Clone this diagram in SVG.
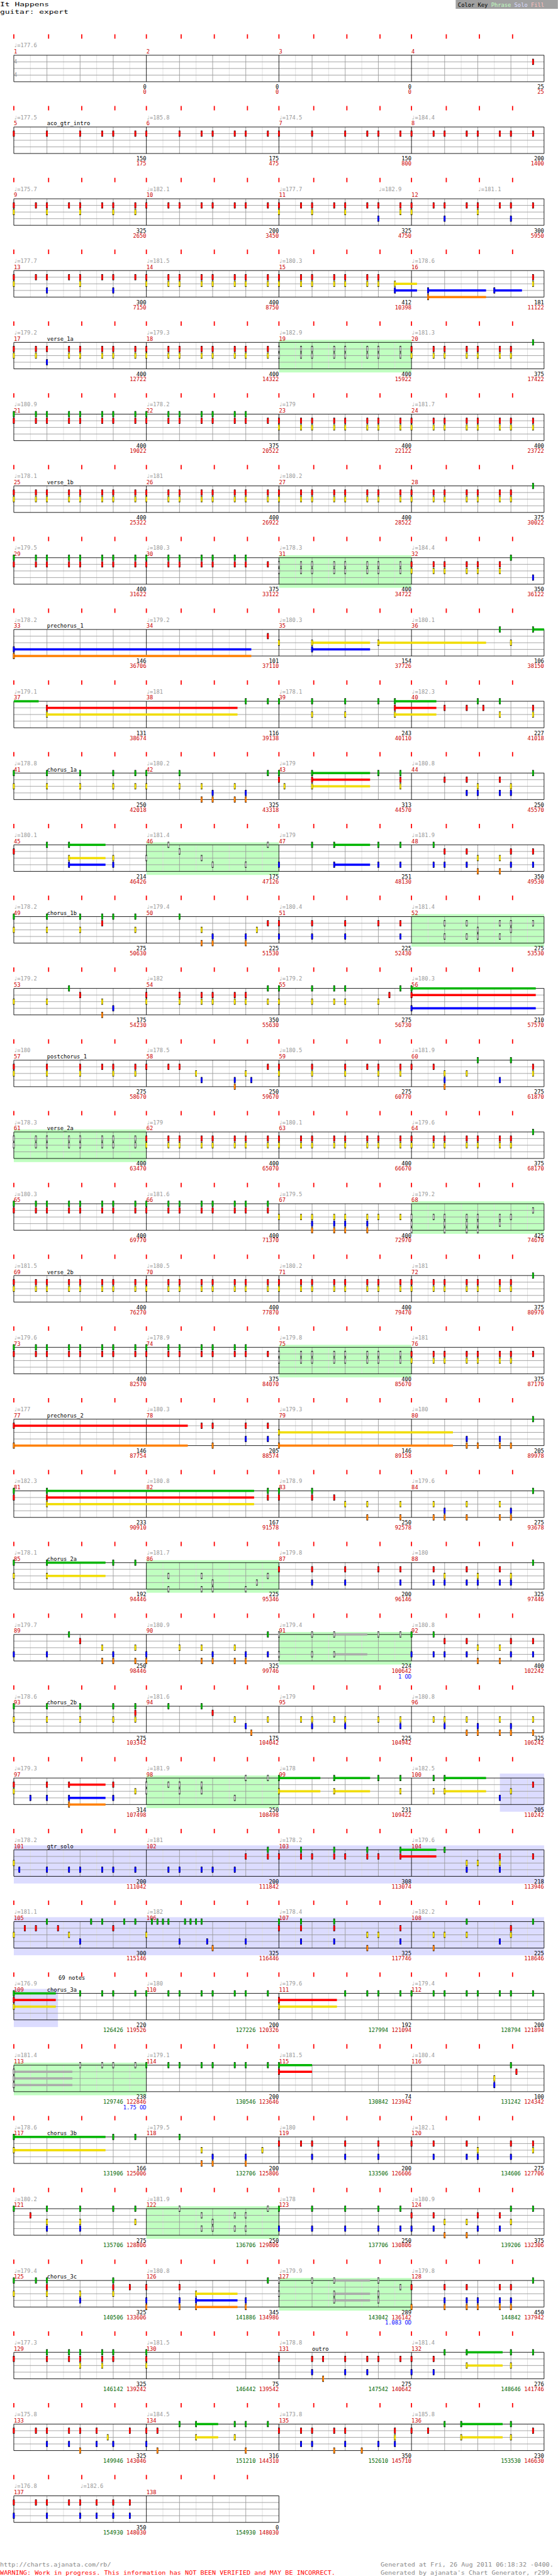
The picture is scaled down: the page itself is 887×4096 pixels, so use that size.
<svg xmlns="http://www.w3.org/2000/svg" width="887" height="4096" viewBox="0 0 887 4096">
<style>
text{font-family:"DejaVu Sans Mono","Liberation Mono",monospace;font-size:10px}
.t{fill:#999}.mn{fill:#c00}.sn{fill:#000}.sc{fill:#000;text-anchor:end}.cu{fill:#c00;text-anchor:end}.gn{fill:#060}.od{fill:#00f;text-anchor:end}
.ph{fill:#c0ffc0}.so{fill:#dcdcff}
.sG{fill:#00b400}.sR{fill:#f00}.sY{fill:#f0dc00}.sB{fill:#00f}.sO{fill:#ff8000}.sX{fill:#aaa}
</style>
<defs>
<g id="G"><rect x="-1.5" y="32.5" width="3" height="11"/><rect x="-1.5" y="33.5" width="3" height="9" fill="#00b400"/></g>
<g id="R"><rect x="-1.5" y="44.5" width="3" height="11"/><rect x="-1.5" y="45.5" width="3" height="9" fill="#f00"/></g>
<g id="Y"><rect x="-1.5" y="56.5" width="3" height="11"/><rect x="-1.5" y="57.5" width="3" height="9" fill="#f0dc00"/></g>
<g id="B"><rect x="-1.5" y="68.5" width="3" height="11"/><rect x="-1.5" y="69.5" width="3" height="9" fill="#00f"/></g>
<g id="O"><rect x="-1.5" y="80.5" width="3" height="11"/><rect x="-1.5" y="81.5" width="3" height="9" fill="#ff8000"/></g>
<g id="g"><rect x="-1.5" y="32.5" width="3" height="11"/><rect x="-1.5" y="33.5" width="3" height="9" fill="#999"/><rect x="-0.5" y="34.5" width="1" height="7" fill="#ddd"/></g>
<g id="r"><rect x="-1.5" y="44.5" width="3" height="11"/><rect x="-1.5" y="45.5" width="3" height="9" fill="#999"/><rect x="-0.5" y="46.5" width="1" height="7" fill="#ddd"/></g>
<g id="y"><rect x="-1.5" y="56.5" width="3" height="11"/><rect x="-1.5" y="57.5" width="3" height="9" fill="#999"/><rect x="-0.5" y="58.5" width="1" height="7" fill="#ddd"/></g>
<g id="b"><rect x="-1.5" y="68.5" width="3" height="11"/><rect x="-1.5" y="69.5" width="3" height="9" fill="#999"/><rect x="-0.5" y="70.5" width="1" height="7" fill="#ddd"/></g>
<g id="o"><rect x="-1.5" y="80.5" width="3" height="11"/><rect x="-1.5" y="81.5" width="3" height="9" fill="#999"/><rect x="-0.5" y="82.5" width="1" height="7" fill="#ddd"/></g>
<g id="mR"><use href="#R" x="25"/><use href="#R" x="65"/><use href="#R" x="85"/><use href="#R" x="125"/><use href="#R" x="145"/><use href="#R" x="185"/><use href="#R" x="205"/><use href="#R" x="245"/></g>
<g id="mY"><use href="#Y" x="25"/><use href="#Y" x="65"/><use href="#Y" x="85"/><use href="#Y" x="125"/><use href="#Y" x="145"/><use href="#Y" x="185"/><use href="#Y" x="205"/><use href="#Y" x="245"/></g>
<g id="mG"><use href="#G" x="25"/><use href="#G" x="65"/><use href="#G" x="85"/><use href="#G" x="125"/><use href="#G" x="145"/><use href="#G" x="185"/><use href="#G" x="205"/><use href="#G" x="245"/></g>
<g id="mr"><use href="#r" x="25"/><use href="#r" x="65"/><use href="#r" x="85"/><use href="#r" x="125"/><use href="#r" x="145"/><use href="#r" x="185"/><use href="#r" x="205"/><use href="#r" x="245"/></g>
<g id="my"><use href="#y" x="25"/><use href="#y" x="65"/><use href="#y" x="85"/><use href="#y" x="125"/><use href="#y" x="145"/><use href="#y" x="185"/><use href="#y" x="205"/><use href="#y" x="245"/></g>
<g id="p7R"><use href="#R" x="25"/><use href="#R" x="65"/><use href="#R" x="85"/><use href="#R" x="125"/><use href="#R" x="145"/><use href="#R" x="185"/><use href="#R" x="205"/></g>
<g id="p7Y"><use href="#Y" x="25"/><use href="#Y" x="65"/><use href="#Y" x="85"/><use href="#Y" x="125"/><use href="#Y" x="145"/><use href="#Y" x="185"/><use href="#Y" x="205"/></g>
<g id="p7G"><use href="#G" x="25"/><use href="#G" x="65"/><use href="#G" x="85"/><use href="#G" x="125"/><use href="#G" x="145"/><use href="#G" x="185"/><use href="#G" x="205"/></g>
<path id="tk16" d="M25 0v8M88 0v8M148 0v8M208 0v8M265 0v8M328 0v8M388 0v8M448 0v8M505 0v8M568 0v8M628 0v8M688 0v8M745 0v8M808 0v8M868 0v8M928 0v8" stroke="#f00" stroke-width="2"/>
<path id="tk8" d="M25 0v8M88 0v8M148 0v8M208 0v8M265 0v8M328 0v8M388 0v8M448 0v8" stroke="#f00" stroke-width="2"/>
<g id="grid4" fill="none">
<path stroke="#ddd" d="M55 38v48M115 38v48M175 38v48M235 38v48M295 38v48M355 38v48M415 38v48M475 38v48M535 38v48M595 38v48M655 38v48M715 38v48M775 38v48M835 38v48M895 38v48M955 38v48"/>
<path stroke="#999" d="M85 38v48M145 38v48M205 38v48M325 38v48M385 38v48M445 38v48M565 38v48M625 38v48M685 38v48M805 38v48M865 38v48M925 38v48M25 50h960M25 62h960M25 74h960"/>
<path stroke="#000" d="M265 38v48M505 38v48M745 38v48M25 38h960v48h-960z"/>
</g>
<g id="grid2" fill="none">
<path stroke="#ddd" d="M55 38v48M115 38v48M175 38v48M235 38v48M295 38v48M355 38v48M415 38v48M475 38v48"/>
<path stroke="#999" d="M85 38v48M145 38v48M205 38v48M325 38v48M385 38v48M445 38v48M25 50h480M25 62h480M25 74h480"/>
<path stroke="#000" d="M265 38v48M25 38h480v48h-480z"/>
</g>
</defs>
<rect width="887" height="4096" fill="#fff"/>
<g transform="scale(0.878)">
<g id="header">
<text x="0" y="11" font-size="12" textLength="89" lengthAdjust="spacingAndGlyphs">It Happens</text>
<text x="0" y="25" font-size="12" textLength="124" lengthAdjust="spacingAndGlyphs">guitar: expert</text>
<rect x="825" y="0" width="185" height="16" fill="#a0a0a0"/>
<text x="829" y="12" font-size="11.3"><tspan fill="#000">Color Key </tspan><tspan fill="#c0ffc0">Phrase </tspan><tspan fill="#dcdcff">Solo </tspan><tspan fill="#ffc0c0">Fill</tspan></text>
</g>

<g id="row1" transform="translate(0,62)">
<use href="#grid4"/><use href="#tk16"/>
<text class="t" x="25" y="24">♩=177.6</text>
<text class="mn" x="25" y="35">1</text><text class="mn" x="265" y="35">2</text><text class="mn" x="505" y="35">3</text><text class="mn" x="745" y="35">4</text>
<text x="25" y="53" font-size="13" fill="#999">4</text><text x="25" y="77" font-size="13" fill="#999">4</text>
<text class="sc" x="265" y="99">0</text><text class="cu" x="265" y="108">0</text>
<text class="sc" x="505" y="99">0</text><text class="cu" x="505" y="108">0</text>
<text class="sc" x="745" y="99">0</text><text class="cu" x="745" y="108">0</text>
<text class="sc" x="985" y="99">25</text><text class="cu" x="985" y="108">25</text>
<use href="#R" x="965"/>
</g>

<g id="row2" transform="translate(0,192)">
<use href="#grid4"/><use href="#tk16"/>
<text class="t" x="25" y="24">♩=177.5</text><text class="t" x="265" y="24">♩=185.8</text><text class="t" x="505" y="24">♩=174.5</text><text class="t" x="745" y="24">♩=184.4</text>
<text class="mn" x="25" y="35">5</text><text class="mn" x="265" y="35">6</text><text class="mn" x="505" y="35">7</text><text class="mn" x="745" y="35">8</text>
<text class="sn" x="85" y="35">aco_gtr_intro</text>
<text class="sc" x="265" y="99">150</text><text class="cu" x="265" y="108">175</text>
<text class="sc" x="505" y="99">175</text><text class="cu" x="505" y="108">475</text>
<text class="sc" x="745" y="99">150</text><text class="cu" x="745" y="108">800</text>
<text class="sc" x="985" y="99">200</text><text class="cu" x="985" y="108">1400</text>
<use href="#R" x="25"/><use href="#R" x="85"/><use href="#R" x="145"/><use href="#R" x="185"/><use href="#R" x="205"/><use href="#R" x="245"/><use href="#R" x="265"/><use href="#R" x="325"/><use href="#R" x="365"/><use href="#R" x="385"/><use href="#R" x="425"/><use href="#R" x="445"/><use href="#R" x="485"/><use href="#R" x="505"/><use href="#R" x="565"/><use href="#R" x="625"/><use href="#R" x="665"/><use href="#R" x="685"/><use href="#R" x="725"/><use href="#mR" x="720"/>
</g>

<g id="row3" transform="translate(0,322)">
<use href="#grid4"/><use href="#tk16"/>
<text class="t" x="25" y="24">♩=175.7</text><text class="t" x="265" y="24">♩=182.1</text><text class="t" x="505" y="24">♩=177.7</text><text class="t" x="685" y="24">♩=182.9</text><text class="t" x="865" y="24">♩=181.1</text>
<text class="mn" x="25" y="35">9</text><text class="mn" x="265" y="35">10</text><text class="mn" x="505" y="35">11</text><text class="mn" x="745" y="35">12</text>
<text class="sc" x="265" y="99">325</text><text class="cu" x="265" y="108">2650</text>
<text class="sc" x="505" y="99">200</text><text class="cu" x="505" y="108">3450</text>
<text class="sc" x="745" y="99">325</text><text class="cu" x="745" y="108">4750</text>
<text class="sc" x="985" y="99">300</text><text class="cu" x="985" y="108">5950</text>
<use href="#mR"/><use href="#mR" x="240"/><use href="#mR" x="480"/><use href="#mR" x="720"/>
<use href="#Y" x="25"/><use href="#Y" x="85"/><use href="#Y" x="145"/><use href="#Y" x="205"/><use href="#Y" x="245"/><use href="#Y" x="505"/><use href="#Y" x="565"/><use href="#Y" x="625"/><use href="#Y" x="725"/><use href="#Y" x="745"/><use href="#Y" x="865"/>
<use href="#B" x="685"/><use href="#B" x="805"/><use href="#B" x="925"/>
</g>

<g id="row4" transform="translate(0,452)">
<use href="#grid4"/><use href="#tk16"/>
<text class="t" x="25" y="24">♩=177.7</text><text class="t" x="265" y="24">♩=181.5</text><text class="t" x="505" y="24">♩=180.3</text><text class="t" x="745" y="24">♩=178.6</text>
<text class="mn" x="25" y="35">13</text><text class="mn" x="265" y="35">14</text><text class="mn" x="505" y="35">15</text><text class="mn" x="745" y="35">16</text>
<text class="sc" x="265" y="99">300</text><text class="cu" x="265" y="108">7150</text>
<text class="sc" x="505" y="99">400</text><text class="cu" x="505" y="108">8750</text>
<text class="sc" x="745" y="99">412</text><text class="cu" x="745" y="108">10398</text>
<text class="sc" x="985" y="99">181</text><text class="cu" x="985" y="108">11122</text>
<rect class="sY" x="715" y="60" width="40" height="4"/><rect class="sB" x="715" y="72" width="40" height="4"/><rect class="sB" x="775" y="72" width="105" height="4"/><rect class="sB" x="895" y="72" width="50" height="4"/><rect class="sO" x="775" y="84" width="105" height="4"/>
<use href="#mR"/><use href="#mR" x="240"/><use href="#p7R" x="480"/><use href="#R" x="965"/>
<use href="#Y" x="25"/><use href="#Y" x="145"/><use href="#mY" x="240"/><use href="#p7Y" x="480"/><use href="#Y" x="715"/><use href="#Y" x="965"/>
<use href="#B" x="85"/><use href="#B" x="205"/><use href="#B" x="715"/><use href="#B" x="775"/><use href="#B" x="895"/><use href="#O" x="775"/>
</g>

<g id="row5" transform="translate(0,582)">
<rect class="ph" x="505" y="33.5" width="240" height="59"/>
<use href="#grid4"/><use href="#tk16"/>
<text class="t" x="25" y="24">♩=179.2</text><text class="t" x="265" y="24">♩=179.3</text><text class="t" x="505" y="24">♩=182.9</text><text class="t" x="745" y="24">♩=181.3</text>
<text class="mn" x="25" y="35">17</text><text class="mn" x="265" y="35">18</text><text class="mn" x="505" y="35">19</text><text class="mn" x="745" y="35">20</text>
<text class="sn" x="85" y="35">verse_1a</text>
<text class="sc" x="265" y="99">400</text><text class="cu" x="265" y="108">12722</text>
<text class="sc" x="505" y="99">400</text><text class="cu" x="505" y="108">14322</text>
<text class="sc" x="745" y="99">400</text><text class="cu" x="745" y="108">15922</text>
<text class="sc" x="985" y="99">375</text><text class="cu" x="985" y="108">17422</text>
<use href="#mR"/><use href="#Y" x="25"/><use href="#Y" x="65"/><use href="#Y" x="125"/><use href="#Y" x="145"/><use href="#Y" x="185"/><use href="#Y" x="205"/><use href="#Y" x="245"/><use href="#B" x="85"/>
<use href="#mR" x="240"/><use href="#mY" x="240"/><use href="#mr" x="480"/><use href="#my" x="480"/>
<use href="#p7R" x="720"/><use href="#p7Y" x="720"/><use href="#G" x="965"/>
</g>

<g id="row6" transform="translate(0,712)">
<use href="#grid4"/><use href="#tk16"/>
<text class="t" x="25" y="24">♩=180.9</text><text class="t" x="265" y="24">♩=178.2</text><text class="t" x="505" y="24">♩=179</text><text class="t" x="745" y="24">♩=181.7</text>
<text class="mn" x="25" y="35">21</text><text class="mn" x="265" y="35">22</text><text class="mn" x="505" y="35">23</text><text class="mn" x="745" y="35">24</text>
<text class="sc" x="265" y="99">400</text><text class="cu" x="265" y="108">19022</text>
<text class="sc" x="505" y="99">375</text><text class="cu" x="505" y="108">20522</text>
<text class="sc" x="745" y="99">400</text><text class="cu" x="745" y="108">22122</text>
<text class="sc" x="985" y="99">400</text><text class="cu" x="985" y="108">23722</text>
<use href="#mG"/><use href="#p7G" x="240"/><use href="#mR"/><use href="#mR" x="240"/>
<use href="#mR" x="480"/><use href="#mR" x="720"/><use href="#mY" x="480"/><use href="#mY" x="720"/>
</g>

<g id="row7" transform="translate(0,842)">
<use href="#grid4"/><use href="#tk16"/>
<text class="t" x="25" y="24">♩=178.1</text><text class="t" x="265" y="24">♩=181</text><text class="t" x="505" y="24">♩=180.2</text>
<text class="mn" x="25" y="35">25</text><text class="mn" x="265" y="35">26</text><text class="mn" x="505" y="35">27</text><text class="mn" x="745" y="35">28</text>
<text class="sn" x="85" y="35">verse_1b</text>
<text class="sc" x="265" y="99">400</text><text class="cu" x="265" y="108">25322</text>
<text class="sc" x="505" y="99">400</text><text class="cu" x="505" y="108">26922</text>
<text class="sc" x="745" y="99">400</text><text class="cu" x="745" y="108">28522</text>
<text class="sc" x="985" y="99">375</text><text class="cu" x="985" y="108">30022</text>
<use href="#mR"/><use href="#mR" x="240"/><use href="#mR" x="480"/><use href="#mY"/><use href="#mY" x="240"/><use href="#mY" x="480"/>
<use href="#p7R" x="720"/><use href="#p7Y" x="720"/><use href="#G" x="965"/>
</g>

<g id="row8" transform="translate(0,972)">
<rect class="ph" x="505" y="33.5" width="240" height="59"/>
<use href="#grid4"/><use href="#tk16"/>
<text class="t" x="25" y="24">♩=179.5</text><text class="t" x="265" y="24">♩=180.3</text><text class="t" x="505" y="24">♩=178.3</text><text class="t" x="745" y="24">♩=184.4</text>
<text class="mn" x="25" y="35">29</text><text class="mn" x="265" y="35">30</text><text class="mn" x="505" y="35">31</text><text class="mn" x="745" y="35">32</text>
<text class="sc" x="265" y="99">400</text><text class="cu" x="265" y="108">31622</text>
<text class="sc" x="505" y="99">375</text><text class="cu" x="505" y="108">33122</text>
<text class="sc" x="745" y="99">400</text><text class="cu" x="745" y="108">34722</text>
<text class="sc" x="985" y="99">350</text><text class="cu" x="985" y="108">36122</text>
<use href="#mG"/><use href="#p7G" x="240"/><use href="#mR"/><use href="#mR" x="240"/>
<use href="#mr" x="480"/><use href="#my" x="480"/>
<use href="#R" x="745"/><use href="#R" x="785"/><use href="#R" x="805"/><use href="#R" x="845"/><use href="#R" x="865"/><use href="#R" x="905"/>
<use href="#Y" x="745"/><use href="#Y" x="785"/><use href="#Y" x="805"/><use href="#Y" x="845"/><use href="#Y" x="865"/><use href="#Y" x="905"/>
<use href="#G" x="925"/><use href="#B" x="965"/>
</g>

<g id="row9" transform="translate(0,1102)">
<use href="#grid4"/><use href="#tk16"/>
<text class="t" x="25" y="24">♩=178.2</text><text class="t" x="265" y="24">♩=179.2</text><text class="t" x="505" y="24">♩=180.3</text><text class="t" x="745" y="24">♩=180.1</text>
<text class="mn" x="25" y="35">33</text><text class="mn" x="265" y="35">34</text><text class="mn" x="505" y="35">35</text><text class="mn" x="745" y="35">36</text>
<text class="sn" x="85" y="35">prechorus_1</text>
<text class="sc" x="265" y="99">146</text><text class="cu" x="265" y="108">36706</text>
<text class="sc" x="505" y="99">101</text><text class="cu" x="505" y="108">37110</text>
<text class="sc" x="745" y="99">154</text><text class="cu" x="745" y="108">37726</text>
<text class="sc" x="985" y="99">106</text><text class="cu" x="985" y="108">38150</text>
<rect class="sB" x="25" y="72" width="430" height="4"/><rect class="sO" x="25" y="84" width="430" height="4"/>
<rect class="sY" x="565" y="60" width="105" height="4"/><rect class="sB" x="565" y="72" width="105" height="4"/>
<rect class="sY" x="685" y="60" width="195" height="4"/><rect class="sG" x="965" y="36" width="20" height="4"/>
<use href="#B" x="25"/><use href="#O" x="25"/><use href="#R" x="485"/><use href="#Y" x="505"/><use href="#Y" x="565"/><use href="#B" x="565"/><use href="#Y" x="685"/><use href="#G" x="905"/><use href="#Y" x="925"/><use href="#G" x="965"/>
</g>

<g id="row10" transform="translate(0,1232)">
<use href="#grid4"/><use href="#tk16"/>
<text class="t" x="25" y="24">♩=179.1</text><text class="t" x="265" y="24">♩=181</text><text class="t" x="505" y="24">♩=178.1</text><text class="t" x="745" y="24">♩=182.3</text>
<text class="mn" x="25" y="35">37</text><text class="mn" x="265" y="35">38</text><text class="mn" x="505" y="35">39</text><text class="mn" x="745" y="35">40</text>
<text class="sc" x="265" y="99">131</text><text class="cu" x="265" y="108">38674</text>
<text class="sc" x="505" y="99">116</text><text class="cu" x="505" y="108">39138</text>
<text class="sc" x="745" y="99">243</text><text class="cu" x="745" y="108">40110</text>
<text class="sc" x="985" y="99">227</text><text class="cu" x="985" y="108">41018</text>
<rect class="sG" x="25" y="36" width="45" height="4"/>
<rect class="sR" x="85" y="48" width="345" height="4"/><rect class="sY" x="85" y="60" width="345" height="4"/>
<rect class="sG" x="715" y="36" width="75" height="4"/><rect class="sR" x="715" y="48" width="75" height="4"/><rect class="sY" x="715" y="60" width="75" height="4"/>
<use href="#R" x="85"/><use href="#Y" x="85"/>
<use href="#G" x="445"/><use href="#G" x="485"/><use href="#G" x="505"/><use href="#G" x="565"/><use href="#G" x="625"/><use href="#G" x="685"/><use href="#Y" x="565"/><use href="#Y" x="625"/>
<use href="#G" x="715"/><use href="#R" x="715"/><use href="#Y" x="715"/>
<use href="#R" x="805"/><use href="#R" x="845"/><use href="#R" x="875"/><use href="#G" x="865"/><use href="#G" x="905"/><use href="#Y" x="905"/><use href="#R" x="965"/><use href="#Y" x="965"/>
</g>

<g id="row11" transform="translate(0,1362)">
<use href="#grid4"/><use href="#tk16"/>
<text class="t" x="25" y="24">♩=178.8</text><text class="t" x="265" y="24">♩=180.2</text><text class="t" x="505" y="24">♩=179</text><text class="t" x="745" y="24">♩=180.8</text>
<text class="mn" x="25" y="35">41</text><text class="mn" x="265" y="35">42</text><text class="mn" x="505" y="35">43</text><text class="mn" x="745" y="35">44</text>
<text class="sn" x="85" y="35">chorus_1a</text>
<text class="sc" x="265" y="99">250</text><text class="cu" x="265" y="108">42018</text>
<text class="sc" x="505" y="99">325</text><text class="cu" x="505" y="108">43318</text>
<text class="sc" x="745" y="99">313</text><text class="cu" x="745" y="108">44570</text>
<text class="sc" x="985" y="99">250</text><text class="cu" x="985" y="108">45570</text>
<rect class="sG" x="565" y="36" width="105" height="4"/><rect class="sR" x="565" y="48" width="105" height="4"/><rect class="sY" x="565" y="60" width="105" height="4"/>
<use href="#G" x="25"/><use href="#G" x="85"/><use href="#G" x="145"/><use href="#G" x="205"/><use href="#G" x="245"/><use href="#G" x="265"/><use href="#G" x="325"/><use href="#G" x="485"/><use href="#G" x="505"/>
<use href="#Y" x="25"/><use href="#Y" x="85"/><use href="#Y" x="145"/><use href="#Y" x="205"/><use href="#Y" x="245"/><use href="#Y" x="265"/><use href="#Y" x="325"/><use href="#Y" x="365"/><use href="#Y" x="425"/>
<use href="#B" x="385"/><use href="#B" x="445"/><use href="#O" x="365"/><use href="#O" x="385"/><use href="#O" x="425"/><use href="#O" x="445"/>
<use href="#R" x="505"/><use href="#Y" x="515"/><use href="#G" x="565"/><use href="#R" x="565"/><use href="#Y" x="565"/>
<use href="#G" x="685"/><use href="#G" x="725"/><use href="#R" x="725"/><use href="#Y" x="725"/>
<use href="#R" x="805"/><use href="#R" x="845"/><use href="#R" x="905"/><use href="#B" x="845"/><use href="#B" x="865"/><use href="#B" x="905"/><use href="#B" x="925"/><use href="#Y" x="865"/><use href="#Y" x="925"/><use href="#G" x="965"/>
</g>

<g id="row12" transform="translate(0,1492)">
<rect class="ph" x="265" y="33.5" width="240" height="59"/>
<use href="#grid4"/><use href="#tk16"/>
<text class="t" x="25" y="24">♩=180.1</text><text class="t" x="265" y="24">♩=181.4</text><text class="t" x="505" y="24">♩=179</text><text class="t" x="745" y="24">♩=181.9</text>
<text class="mn" x="25" y="35">45</text><text class="mn" x="265" y="35">46</text><text class="mn" x="505" y="35">47</text><text class="mn" x="745" y="35">48</text>
<text class="sc" x="265" y="99">214</text><text class="cu" x="265" y="108">46426</text>
<text class="sc" x="505" y="99">175</text><text class="cu" x="505" y="108">47126</text>
<text class="sc" x="745" y="99">251</text><text class="cu" x="745" y="108">48130</text>
<text class="sc" x="985" y="99">350</text><text class="cu" x="985" y="108">49530</text>
<rect class="sG" x="125" y="36" width="66" height="4"/><rect class="sY" x="125" y="60" width="66" height="4"/><rect class="sB" x="125" y="72" width="66" height="4"/>
<rect class="sG" x="605" y="36" width="65" height="4"/><rect class="sB" x="605" y="72" width="65" height="4"/>
<use href="#R" x="25"/><use href="#G" x="85"/><use href="#G" x="125"/><use href="#Y" x="125"/><use href="#B" x="125"/><use href="#Y" x="205"/><use href="#B" x="205"/>
<use href="#g" x="305"/><use href="#g" x="485"/><use href="#r" x="325"/><use href="#y" x="265"/><use href="#y" x="365"/><use href="#b" x="385"/><use href="#b" x="445"/>
<use href="#B" x="505"/><use href="#G" x="565"/><use href="#G" x="605"/><use href="#B" x="605"/><use href="#G" x="685"/><use href="#G" x="725"/><use href="#B" x="685"/><use href="#B" x="725"/><use href="#G" x="785"/>
<use href="#R" x="805"/><use href="#R" x="845"/><use href="#R" x="925"/><use href="#R" x="965"/>
<use href="#B" x="785"/><use href="#B" x="805"/><use href="#B" x="845"/><use href="#B" x="925"/><use href="#B" x="965"/>
<use href="#Y" x="865"/><use href="#Y" x="905"/><use href="#O" x="865"/><use href="#O" x="905"/>
</g>

<g id="row13" transform="translate(0,1622)">
<rect class="ph" x="745" y="33.5" width="240" height="59"/>
<use href="#grid4"/><use href="#tk16"/>
<text class="t" x="25" y="24">♩=178.2</text><text class="t" x="265" y="24">♩=179.4</text><text class="t" x="505" y="24">♩=180.4</text><text class="t" x="745" y="24">♩=181.4</text>
<text class="mn" x="25" y="35">49</text><text class="mn" x="265" y="35">50</text><text class="mn" x="505" y="35">51</text><text class="mn" x="745" y="35">52</text>
<text class="sn" x="85" y="35">chorus_1b</text>
<text class="sc" x="265" y="99">275</text><text class="cu" x="265" y="108">50630</text>
<text class="sc" x="505" y="99">225</text><text class="cu" x="505" y="108">51530</text>
<text class="sc" x="745" y="99">225</text><text class="cu" x="745" y="108">52430</text>
<text class="sc" x="985" y="99">275</text><text class="cu" x="985" y="108">53530</text>
<use href="#G" x="25"/><use href="#G" x="85"/><use href="#G" x="145"/><use href="#G" x="185"/><use href="#G" x="205"/><use href="#G" x="245"/><use href="#G" x="325"/><use href="#R" x="185"/>
<use href="#Y" x="25"/><use href="#Y" x="85"/><use href="#Y" x="145"/><use href="#Y" x="245"/><use href="#Y" x="365"/><use href="#Y" x="465"/>
<use href="#B" x="385"/><use href="#B" x="445"/><use href="#O" x="365"/><use href="#O" x="385"/><use href="#O" x="445"/>
<use href="#R" x="485"/><use href="#R" x="505"/><use href="#R" x="565"/><use href="#R" x="625"/><use href="#R" x="685"/><use href="#R" x="725"/>
<use href="#B" x="505"/><use href="#B" x="565"/><use href="#B" x="625"/><use href="#B" x="725"/>
<use href="#r" x="805"/><use href="#r" x="845"/><use href="#r" x="905"/><use href="#r" x="925"/><use href="#r" x="965"/><use href="#y" x="865"/><use href="#y" x="925"/>
<use href="#b" x="805"/><use href="#b" x="845"/><use href="#b" x="865"/><use href="#b" x="905"/>
</g>

<g id="row14" transform="translate(0,1752)">
<use href="#grid4"/><use href="#tk16"/>
<text class="t" x="25" y="24">♩=179.2</text><text class="t" x="265" y="24">♩=182</text><text class="t" x="505" y="24">♩=179.2</text><text class="t" x="745" y="24">♩=180.3</text>
<text class="mn" x="25" y="35">53</text><text class="mn" x="265" y="35">54</text><text class="mn" x="505" y="35">55</text><text class="mn" x="745" y="35">56</text>
<text class="sc" x="265" y="99">175</text><text class="cu" x="265" y="108">54230</text>
<text class="sc" x="505" y="99">350</text><text class="cu" x="505" y="108">55630</text>
<text class="sc" x="745" y="99">275</text><text class="cu" x="745" y="108">56730</text>
<text class="sc" x="985" y="99">210</text><text class="cu" x="985" y="108">57570</text>
<rect class="sG" x="745" y="36" width="225" height="4"/><rect class="sR" x="745" y="48" width="225" height="4"/><rect class="sB" x="745" y="72" width="225" height="4"/>
<use href="#Y" x="25"/><use href="#Y" x="85"/><use href="#Y" x="185"/><use href="#G" x="125"/><use href="#R" x="145"/><use href="#B" x="205"/><use href="#O" x="185"/>
<use href="#R" x="265"/><use href="#R" x="325"/><use href="#R" x="365"/><use href="#R" x="385"/><use href="#R" x="425"/><use href="#R" x="445"/>
<use href="#Y" x="265"/><use href="#Y" x="325"/><use href="#Y" x="365"/><use href="#Y" x="385"/><use href="#Y" x="425"/><use href="#Y" x="445"/><use href="#Y" x="485"/><use href="#Y" x="505"/>
<use href="#G" x="485"/><use href="#G" x="505"/><use href="#G" x="565"/><use href="#G" x="605"/><use href="#G" x="625"/>
<use href="#Y" x="565"/><use href="#Y" x="605"/><use href="#Y" x="625"/><use href="#Y" x="685"/><use href="#G" x="725"/><use href="#R" x="705"/>
<use href="#G" x="745"/><use href="#R" x="745"/><use href="#B" x="745"/>
</g>

<g id="row15" transform="translate(0,1882)">
<use href="#grid4"/><use href="#tk16"/>
<text class="t" x="25" y="24">♩=180</text><text class="t" x="265" y="24">♩=178.5</text><text class="t" x="505" y="24">♩=180.5</text><text class="t" x="745" y="24">♩=181.9</text>
<text class="mn" x="25" y="35">57</text><text class="mn" x="265" y="35">58</text><text class="mn" x="505" y="35">59</text><text class="mn" x="745" y="35">60</text>
<text class="sn" x="85" y="35">postchorus_1</text>
<text class="sc" x="265" y="99">275</text><text class="cu" x="265" y="108">58670</text>
<text class="sc" x="505" y="99">250</text><text class="cu" x="505" y="108">59670</text>
<text class="sc" x="745" y="99">275</text><text class="cu" x="745" y="108">60770</text>
<text class="sc" x="985" y="99">275</text><text class="cu" x="985" y="108">61870</text>
<use href="#R" x="25"/><use href="#R" x="85"/><use href="#R" x="145"/><use href="#R" x="185"/><use href="#R" x="205"/><use href="#R" x="245"/><use href="#R" x="265"/><use href="#R" x="305"/><use href="#R" x="325"/>
<use href="#Y" x="25"/><use href="#Y" x="85"/><use href="#Y" x="145"/><use href="#Y" x="205"/><use href="#Y" x="245"/>
<use href="#Y" x="355"/><use href="#Y" x="445"/><use href="#B" x="365"/><use href="#B" x="425"/><use href="#B" x="455"/><use href="#O" x="425"/>
<use href="#R" x="485"/><use href="#R" x="505"/><use href="#R" x="565"/><use href="#R" x="625"/><use href="#R" x="665"/><use href="#R" x="685"/><use href="#R" x="725"/><use href="#R" x="745"/><use href="#R" x="785"/><use href="#R" x="965"/>
<use href="#Y" x="505"/><use href="#Y" x="565"/><use href="#Y" x="625"/><use href="#Y" x="685"/><use href="#Y" x="725"/><use href="#Y" x="805"/><use href="#Y" x="845"/><use href="#Y" x="965"/>
<use href="#G" x="865"/><use href="#G" x="925"/><use href="#B" x="805"/><use href="#B" x="905"/><use href="#O" x="805"/>
</g>

<g id="row16" transform="translate(0,2012)">
<rect class="ph" x="25" y="33.5" width="240" height="59"/>
<use href="#grid4"/><use href="#tk16"/>
<text class="t" x="25" y="24">♩=178.3</text><text class="t" x="265" y="24">♩=179</text><text class="t" x="505" y="24">♩=180.1</text><text class="t" x="745" y="24">♩=179.6</text>
<text class="mn" x="25" y="35">61</text><text class="mn" x="265" y="35">62</text><text class="mn" x="505" y="35">63</text><text class="mn" x="745" y="35">64</text>
<text class="sn" x="85" y="35">verse_2a</text>
<text class="sc" x="265" y="99">400</text><text class="cu" x="265" y="108">63470</text>
<text class="sc" x="505" y="99">400</text><text class="cu" x="505" y="108">65070</text>
<text class="sc" x="745" y="99">400</text><text class="cu" x="745" y="108">66670</text>
<text class="sc" x="985" y="99">375</text><text class="cu" x="985" y="108">68170</text>
<use href="#mr"/><use href="#my"/><use href="#mR" x="240"/><use href="#mY" x="240"/><use href="#mR" x="480"/><use href="#mY" x="480"/>
<use href="#p7R" x="720"/><use href="#p7Y" x="720"/><use href="#G" x="965"/>
</g>

<g id="row17" transform="translate(0,2142)">
<rect class="ph" x="745" y="33.5" width="240" height="59"/>
<use href="#grid4"/><use href="#tk16"/>
<text class="t" x="25" y="24">♩=180.3</text><text class="t" x="265" y="24">♩=181.6</text><text class="t" x="505" y="24">♩=179.5</text><text class="t" x="745" y="24">♩=179.2</text>
<text class="mn" x="25" y="35">65</text><text class="mn" x="265" y="35">66</text><text class="mn" x="505" y="35">67</text><text class="mn" x="745" y="35">68</text>
<text class="sc" x="265" y="99">400</text><text class="cu" x="265" y="108">69770</text>
<text class="sc" x="505" y="99">400</text><text class="cu" x="505" y="108">71370</text>
<text class="sc" x="745" y="99">400</text><text class="cu" x="745" y="108">72970</text>
<text class="sc" x="985" y="99">425</text><text class="cu" x="985" y="108">74670</text>
<use href="#mG"/><use href="#mG" x="240"/><use href="#mR"/><use href="#mR" x="240"/>
<use href="#mY" x="480"/><use href="#B" x="565"/><use href="#B" x="605"/><use href="#B" x="625"/><use href="#B" x="665"/><use href="#O" x="565"/><use href="#O" x="605"/><use href="#O" x="625"/><use href="#O" x="665"/>
<use href="#y" x="745"/><use href="#y" x="785"/><use href="#y" x="805"/><use href="#y" x="845"/><use href="#y" x="865"/><use href="#y" x="905"/><use href="#y" x="925"/>
<use href="#b" x="745"/><use href="#b" x="805"/><use href="#b" x="845"/><use href="#b" x="865"/><use href="#b" x="905"/>
<use href="#o" x="745"/><use href="#o" x="805"/><use href="#o" x="845"/><use href="#o" x="865"/><use href="#r" x="965"/>
</g>

<g id="row18" transform="translate(0,2272)">
<use href="#grid4"/><use href="#tk16"/>
<text class="t" x="25" y="24">♩=181.5</text><text class="t" x="265" y="24">♩=180.5</text><text class="t" x="505" y="24">♩=180.2</text><text class="t" x="745" y="24">♩=181</text>
<text class="mn" x="25" y="35">69</text><text class="mn" x="265" y="35">70</text><text class="mn" x="505" y="35">71</text><text class="mn" x="745" y="35">72</text>
<text class="sn" x="85" y="35">verse_2b</text>
<text class="sc" x="265" y="99">400</text><text class="cu" x="265" y="108">76270</text>
<text class="sc" x="505" y="99">400</text><text class="cu" x="505" y="108">77870</text>
<text class="sc" x="745" y="99">400</text><text class="cu" x="745" y="108">79470</text>
<text class="sc" x="985" y="99">375</text><text class="cu" x="985" y="108">80970</text>
<use href="#mR"/><use href="#mR" x="240"/><use href="#mR" x="480"/><use href="#mY"/><use href="#mY" x="240"/><use href="#mY" x="480"/>
<use href="#p7R" x="720"/><use href="#p7Y" x="720"/><use href="#G" x="965"/>
</g>

<g id="row19" transform="translate(0,2402)">
<rect class="ph" x="505" y="33.5" width="240" height="59"/>
<use href="#grid4"/><use href="#tk16"/>
<text class="t" x="25" y="24">♩=179.6</text><text class="t" x="265" y="24">♩=178.9</text><text class="t" x="505" y="24">♩=179.8</text><text class="t" x="745" y="24">♩=181</text>
<text class="mn" x="25" y="35">73</text><text class="mn" x="265" y="35">74</text><text class="mn" x="505" y="35">75</text><text class="mn" x="745" y="35">76</text>
<text class="sc" x="265" y="99">400</text><text class="cu" x="265" y="108">82570</text>
<text class="sc" x="505" y="99">375</text><text class="cu" x="505" y="108">84070</text>
<text class="sc" x="745" y="99">400</text><text class="cu" x="745" y="108">85670</text>
<text class="sc" x="985" y="99">375</text><text class="cu" x="985" y="108">87170</text>
<use href="#mG"/><use href="#p7G" x="240"/><use href="#mR"/><use href="#mR" x="240"/>
<use href="#mr" x="480"/><use href="#my" x="480"/>
<use href="#p7R" x="720"/><use href="#p7Y" x="720"/><use href="#R" x="965"/>
</g>

<g id="row20" transform="translate(0,2532)">
<use href="#grid4"/><use href="#tk16"/>
<text class="t" x="25" y="24">♩=177</text><text class="t" x="265" y="24">♩=180.3</text><text class="t" x="505" y="24">♩=179.3</text><text class="t" x="745" y="24">♩=180</text>
<text class="mn" x="25" y="35">77</text><text class="mn" x="265" y="35">78</text><text class="mn" x="505" y="35">79</text><text class="mn" x="745" y="35">80</text>
<text class="sn" x="85" y="35">prechorus_2</text>
<text class="sc" x="265" y="99">146</text><text class="cu" x="265" y="108">87754</text>
<text class="sc" x="505" y="99">205</text><text class="cu" x="505" y="108">88574</text>
<text class="sc" x="745" y="99">146</text><text class="cu" x="745" y="108">89158</text>
<text class="sc" x="985" y="99">205</text><text class="cu" x="985" y="108">89978</text>
<rect class="sR" x="25" y="48" width="315" height="4"/><rect class="sO" x="25" y="84" width="315" height="4"/>
<rect class="sY" x="505" y="60" width="315" height="4"/><rect class="sO" x="505" y="84" width="315" height="4"/>
<use href="#R" x="25"/><use href="#O" x="25"/>
<use href="#R" x="365"/><use href="#R" x="385"/><use href="#R" x="445"/><use href="#R" x="485"/><use href="#O" x="385"/><use href="#B" x="445"/><use href="#B" x="485"/>
<use href="#Y" x="505"/><use href="#O" x="505"/>
<use href="#B" x="845"/><use href="#B" x="905"/><use href="#O" x="845"/><use href="#O" x="865"/><use href="#O" x="905"/><use href="#O" x="925"/><use href="#G" x="965"/>
</g>

<g id="row21" transform="translate(0,2662)">
<use href="#grid4"/><use href="#tk16"/>
<text class="t" x="25" y="24">♩=182.3</text><text class="t" x="265" y="24">♩=180.8</text><text class="t" x="505" y="24">♩=178.9</text><text class="t" x="745" y="24">♩=179.6</text>
<text class="mn" x="25" y="35">81</text><text class="mn" x="265" y="35">82</text><text class="mn" x="505" y="35">83</text><text class="mn" x="745" y="35">84</text>
<text class="sc" x="265" y="99">233</text><text class="cu" x="265" y="108">90910</text>
<text class="sc" x="505" y="99">167</text><text class="cu" x="505" y="108">91578</text>
<text class="sc" x="745" y="99">250</text><text class="cu" x="745" y="108">92578</text>
<text class="sc" x="985" y="99">275</text><text class="cu" x="985" y="108">93678</text>
<rect class="sG" x="85" y="36" width="375" height="4"/><rect class="sR" x="85" y="48" width="375" height="4"/><rect class="sY" x="85" y="60" width="375" height="4"/>
<use href="#G" x="25"/><use href="#R" x="25"/><use href="#G" x="85"/><use href="#R" x="85"/><use href="#Y" x="85"/>
<use href="#G" x="485"/><use href="#G" x="505"/><use href="#G" x="565"/><use href="#R" x="485"/><use href="#R" x="505"/><use href="#R" x="565"/><use href="#R" x="605"/>
<use href="#Y" x="625"/><use href="#Y" x="665"/><use href="#Y" x="725"/><use href="#Y" x="785"/><use href="#Y" x="845"/><use href="#Y" x="905"/>
<use href="#B" x="805"/><use href="#B" x="925"/>
<use href="#O" x="665"/><use href="#O" x="725"/><use href="#O" x="785"/><use href="#O" x="805"/><use href="#O" x="845"/><use href="#O" x="905"/><use href="#O" x="925"/><use href="#G" x="965"/>
</g>

<g id="row22" transform="translate(0,2792)">
<rect class="ph" x="265" y="33.5" width="240" height="59"/>
<use href="#grid4"/><use href="#tk16"/>
<text class="t" x="25" y="24">♩=178.1</text><text class="t" x="265" y="24">♩=181.7</text><text class="t" x="505" y="24">♩=179.8</text><text class="t" x="745" y="24">♩=180</text>
<text class="mn" x="25" y="35">85</text><text class="mn" x="265" y="35">86</text><text class="mn" x="505" y="35">87</text><text class="mn" x="745" y="35">88</text>
<text class="sn" x="85" y="35">chorus_2a</text>
<text class="sc" x="265" y="99">192</text><text class="cu" x="265" y="108">94446</text>
<text class="sc" x="505" y="99">225</text><text class="cu" x="505" y="108">95346</text>
<text class="sc" x="745" y="99">200</text><text class="cu" x="745" y="108">96146</text>
<text class="sc" x="985" y="99">325</text><text class="cu" x="985" y="108">97446</text>
<rect class="sG" x="85" y="36" width="106" height="4"/><rect class="sY" x="85" y="60" width="106" height="4"/>
<use href="#G" x="25"/><use href="#Y" x="25"/><use href="#G" x="85"/><use href="#Y" x="85"/><use href="#G" x="205"/><use href="#G" x="245"/>
<use href="#y" x="305"/><use href="#y" x="365"/><use href="#y" x="485"/><use href="#b" x="385"/><use href="#b" x="465"/><use href="#o" x="305"/><use href="#o" x="365"/><use href="#o" x="385"/><use href="#o" x="445"/>
<use href="#R" x="505"/><use href="#R" x="565"/><use href="#R" x="625"/><use href="#R" x="685"/><use href="#R" x="725"/><use href="#R" x="785"/><use href="#R" x="845"/><use href="#R" x="905"/>
<use href="#B" x="565"/><use href="#B" x="625"/><use href="#B" x="725"/><use href="#B" x="785"/><use href="#B" x="805"/><use href="#B" x="845"/><use href="#B" x="865"/><use href="#B" x="905"/><use href="#B" x="925"/>
<use href="#Y" x="805"/><use href="#Y" x="865"/><use href="#Y" x="925"/><use href="#G" x="965"/>
</g>

<g id="row23" transform="translate(0,2922)">
<rect class="ph" x="505" y="33.5" width="240" height="59"/>
<use href="#grid4"/><use href="#tk16"/>
<text class="t" x="25" y="24">♩=179.7</text><text class="t" x="265" y="24">♩=180.9</text><text class="t" x="505" y="24">♩=179.4</text><text class="t" x="745" y="24">♩=180.8</text>
<text class="mn" x="25" y="35">89</text><text class="mn" x="265" y="35">90</text><text class="mn" x="505" y="35">91</text><text class="mn" x="745" y="35">92</text>
<text class="sc" x="265" y="99">250</text><text class="cu" x="265" y="108">98446</text>
<text class="sc" x="505" y="99">325</text><text class="cu" x="505" y="108">99746</text>
<text class="sc" x="745" y="99">224</text><text class="cu" x="745" y="108">100642</text><text class="od" x="745" y="118">1 OD</text>
<text class="sc" x="985" y="99">400</text><text class="cu" x="985" y="108">102242</text>
<rect class="sX" x="605" y="36" width="60" height="4"/><rect class="sX" x="605" y="72" width="60" height="4"/>
<use href="#B" x="25"/><use href="#B" x="85"/><use href="#B" x="205"/><use href="#B" x="265"/><use href="#B" x="385"/><use href="#B" x="445"/><use href="#B" x="485"/>
<use href="#G" x="125"/><use href="#G" x="485"/><use href="#R" x="145"/>
<use href="#Y" x="185"/><use href="#Y" x="245"/><use href="#Y" x="325"/><use href="#Y" x="365"/><use href="#Y" x="425"/>
<use href="#O" x="185"/><use href="#O" x="205"/><use href="#O" x="245"/><use href="#O" x="265"/><use href="#O" x="365"/><use href="#O" x="385"/><use href="#O" x="425"/><use href="#O" x="445"/>
<use href="#g" x="505"/><use href="#g" x="565"/><use href="#g" x="605"/><use href="#g" x="685"/><use href="#g" x="725"/><use href="#b" x="505"/><use href="#b" x="565"/><use href="#b" x="605"/>
<use href="#G" x="745"/><use href="#G" x="785"/><use href="#R" x="805"/><use href="#R" x="845"/><use href="#R" x="925"/><use href="#R" x="965"/>
<use href="#B" x="745"/><use href="#B" x="785"/><use href="#B" x="805"/><use href="#B" x="845"/><use href="#B" x="925"/><use href="#B" x="965"/>
<use href="#Y" x="865"/><use href="#Y" x="905"/><use href="#O" x="865"/><use href="#O" x="905"/>
</g>

<g id="row24" transform="translate(0,3052)">
<use href="#grid4"/><use href="#tk16"/>
<text class="t" x="25" y="24">♩=178.6</text><text class="t" x="265" y="24">♩=181.6</text><text class="t" x="505" y="24">♩=179</text><text class="t" x="745" y="24">♩=180.8</text>
<text class="mn" x="25" y="35">93</text><text class="mn" x="265" y="35">94</text><text class="mn" x="505" y="35">95</text><text class="mn" x="745" y="35">96</text>
<text class="sn" x="85" y="35">chorus_2b</text>
<text class="sc" x="265" y="99">275</text><text class="cu" x="265" y="108">103342</text>
<text class="sc" x="505" y="99">175</text><text class="cu" x="505" y="108">104042</text>
<text class="sc" x="745" y="99">225</text><text class="cu" x="745" y="108">104942</text>
<text class="sc" x="985" y="99">325</text><text class="cu" x="985" y="108">106242</text>
<use href="#G" x="25"/><use href="#G" x="85"/><use href="#G" x="145"/><use href="#G" x="205"/><use href="#G" x="245"/><use href="#G" x="305"/><use href="#G" x="365"/>
<use href="#Y" x="25"/><use href="#Y" x="85"/><use href="#Y" x="145"/><use href="#Y" x="205"/><use href="#Y" x="245"/><use href="#Y" x="425"/><use href="#Y" x="485"/>
<use href="#R" x="245"/><use href="#R" x="385"/><use href="#B" x="445"/><use href="#O" x="455"/>
<use href="#Y" x="545"/><use href="#Y" x="565"/><use href="#Y" x="605"/><use href="#Y" x="625"/><use href="#Y" x="685"/><use href="#Y" x="725"/><use href="#Y" x="785"/><use href="#Y" x="805"/><use href="#Y" x="845"/><use href="#Y" x="905"/><use href="#Y" x="965"/>
<use href="#B" x="565"/><use href="#B" x="625"/><use href="#B" x="725"/><use href="#B" x="805"/><use href="#B" x="865"/><use href="#B" x="925"/>
<use href="#O" x="845"/><use href="#O" x="865"/><use href="#O" x="905"/><use href="#O" x="925"/><use href="#O" x="965"/>
</g>

<g id="row25" transform="translate(0,3182)">
<rect class="ph" x="265" y="33.5" width="240" height="59"/>
<rect class="so" x="905" y="30" width="80" height="69"/>
<use href="#grid4"/><use href="#tk16"/>
<text class="t" x="25" y="24">♩=179.3</text><text class="t" x="265" y="24">♩=181.9</text><text class="t" x="505" y="24">♩=178</text><text class="t" x="745" y="24">♩=182.5</text>
<text class="mn" x="25" y="35">97</text><text class="mn" x="265" y="35">98</text><text class="mn" x="505" y="35">99</text><text class="mn" x="745" y="35">100</text>
<text class="sc" x="265" y="99">314</text><text class="cu" x="265" y="108">107498</text>
<text class="sc" x="505" y="99">250</text><text class="cu" x="505" y="108">108498</text>
<text class="sc" x="745" y="99">231</text><text class="cu" x="745" y="108">109422</text>
<text class="sc" x="985" y="99">205</text><text class="cu" x="985" y="108">110242</text>
<rect class="sR" x="125" y="48" width="66" height="4"/><rect class="sB" x="125" y="72" width="66" height="4"/><rect class="sO" x="125" y="84" width="66" height="4"/>
<rect class="sG" x="505" y="36" width="75" height="4"/><rect class="sY" x="505" y="60" width="75" height="4"/>
<rect class="sG" x="605" y="36" width="65" height="4"/><rect class="sY" x="605" y="60" width="65" height="4"/>
<rect class="sG" x="805" y="36" width="75" height="4"/><rect class="sY" x="805" y="60" width="75" height="4"/>
<use href="#R" x="25"/><use href="#R" x="85"/><use href="#R" x="205"/><use href="#Y" x="25"/><use href="#Y" x="245"/><use href="#B" x="55"/><use href="#B" x="85"/><use href="#B" x="205"/>
<use href="#R" x="125"/><use href="#B" x="125"/><use href="#O" x="125"/>
<use href="#r" x="265"/><use href="#r" x="305"/><use href="#r" x="325"/><use href="#r" x="365"/><use href="#y" x="265"/><use href="#y" x="325"/><use href="#y" x="365"/><use href="#b" x="425"/><use href="#g" x="445"/><use href="#g" x="485"/>
<use href="#G" x="505"/><use href="#Y" x="505"/><use href="#G" x="605"/><use href="#Y" x="605"/>
<use href="#G" x="685"/><use href="#G" x="725"/><use href="#G" x="785"/><use href="#Y" x="725"/><use href="#Y" x="785"/>
<use href="#G" x="805"/><use href="#Y" x="805"/><use href="#B" x="905"/><use href="#Y" x="925"/><use href="#R" x="965"/>
</g>

<g id="row26" transform="translate(0,3312)">
<rect class="so" x="25" y="30" width="960" height="69"/>
<use href="#grid4"/><use href="#tk16"/>
<text class="t" x="25" y="24">♩=178.2</text><text class="t" x="265" y="24">♩=181</text><text class="t" x="505" y="24">♩=178.2</text><text class="t" x="745" y="24">♩=179.6</text>
<text class="mn" x="25" y="35">101</text><text class="mn" x="265" y="35">102</text><text class="mn" x="505" y="35">103</text><text class="mn" x="745" y="35">104</text>
<text class="sn" x="85" y="35">gtr_solo</text>
<text class="sc" x="265" y="99">200</text><text class="cu" x="265" y="108">111042</text>
<text class="sc" x="505" y="99">200</text><text class="cu" x="505" y="108">111842</text>
<text class="sc" x="745" y="99">308</text><text class="cu" x="745" y="108">113074</text>
<text class="sc" x="985" y="99">218</text><text class="cu" x="985" y="108">113946</text>
<rect class="sG" x="725" y="36" width="65" height="4"/><rect class="sR" x="725" y="48" width="65" height="4"/>
<use href="#Y" x="25"/>
<use href="#B" x="35"/><use href="#B" x="85"/><use href="#B" x="125"/><use href="#B" x="145"/><use href="#B" x="185"/><use href="#B" x="205"/><use href="#B" x="245"/><use href="#B" x="305"/><use href="#B" x="325"/><use href="#B" x="365"/><use href="#B" x="385"/><use href="#B" x="425"/>
<use href="#R" x="445"/><use href="#R" x="485"/><use href="#R" x="505"/><use href="#R" x="545"/><use href="#R" x="565"/><use href="#R" x="605"/><use href="#R" x="625"/><use href="#R" x="665"/><use href="#R" x="685"/>
<use href="#G" x="485"/><use href="#G" x="545"/><use href="#G" x="605"/><use href="#G" x="665"/>
<use href="#G" x="725"/><use href="#R" x="725"/><use href="#G" x="805"/>
<use href="#Y" x="845"/><use href="#Y" x="865"/><use href="#Y" x="905"/><use href="#B" x="845"/><use href="#B" x="905"/><use href="#R" x="905"/><use href="#R" x="965"/>
</g>

<g id="row27" transform="translate(0,3442)">
<rect class="so" x="25" y="30" width="960" height="69"/>
<use href="#grid4"/><use href="#tk16"/>
<text class="t" x="25" y="24">♩=181.1</text><text class="t" x="265" y="24">♩=182</text><text class="t" x="505" y="24">♩=178.4</text><text class="t" x="745" y="24">♩=182.2</text>
<text class="mn" x="25" y="35">105</text><text class="mn" x="265" y="35">106</text><text class="mn" x="505" y="35">107</text><text class="mn" x="745" y="35">108</text>
<text class="sc" x="265" y="99">300</text><text class="cu" x="265" y="108">115146</text>
<text class="sc" x="505" y="99">325</text><text class="cu" x="505" y="108">116446</text>
<text class="sc" x="745" y="99">325</text><text class="cu" x="745" y="108">117746</text>
<text class="sc" x="985" y="99">225</text><text class="cu" x="985" y="108">118646</text>
<use href="#Y" x="25"/><use href="#Y" x="125"/><use href="#Y" x="265"/><use href="#Y" x="665"/><use href="#Y" x="685"/><use href="#Y" x="785"/><use href="#Y" x="805"/><use href="#Y" x="845"/><use href="#Y" x="925"/>
<use href="#R" x="45"/><use href="#R" x="65"/><use href="#R" x="105"/><use href="#R" x="205"/><use href="#R" x="505"/><use href="#R" x="545"/><use href="#R" x="605"/><use href="#R" x="725"/><use href="#R" x="925"/>
<use href="#G" x="85"/><use href="#G" x="165"/><use href="#G" x="185"/><use href="#G" x="225"/><use href="#G" x="245"/><use href="#G" x="275"/><use href="#G" x="285"/><use href="#G" x="295"/><use href="#G" x="305"/><use href="#G" x="335"/><use href="#G" x="345"/><use href="#G" x="355"/><use href="#G" x="365"/><use href="#G" x="505"/><use href="#G" x="545"/><use href="#G" x="605"/><use href="#G" x="845"/><use href="#G" x="965"/>
<use href="#B" x="145"/><use href="#B" x="325"/><use href="#B" x="375"/><use href="#B" x="445"/><use href="#B" x="545"/><use href="#B" x="605"/><use href="#B" x="725"/><use href="#B" x="905"/>
<use href="#O" x="385"/><use href="#O" x="665"/><use href="#O" x="785"/>
</g>

<g id="row28" transform="translate(0,3572)">
<rect class="so" x="25" y="30" width="80" height="69"/>
<use href="#grid4"/><use href="#tk16"/>
<text class="sn" x="106" y="14">69 notes</text>
<text class="t" x="25" y="24">♩=176.9</text><text class="t" x="265" y="24">♩=180</text><text class="t" x="505" y="24">♩=179.6</text><text class="t" x="745" y="24">♩=179.4</text>
<text class="mn" x="25" y="35">109</text><text class="mn" x="265" y="35">110</text><text class="mn" x="505" y="35">111</text><text class="mn" x="745" y="35">112</text>
<text class="sn" x="85" y="35">chorus_3a</text>
<text class="sc" x="265" y="99">220</text><text class="cu" x="265" y="108"><tspan class="gn">126426 </tspan>119526</text>
<text class="sc" x="505" y="99">200</text><text class="cu" x="505" y="108"><tspan class="gn">127226 </tspan>120326</text>
<text class="sc" x="745" y="99">192</text><text class="cu" x="745" y="108"><tspan class="gn">127994 </tspan>121094</text>
<text class="sc" x="985" y="99">200</text><text class="cu" x="985" y="108"><tspan class="gn">128794 </tspan>121894</text>
<rect class="sG" x="25" y="36" width="76" height="4"/><rect class="sR" x="25" y="48" width="76" height="4"/><rect class="sY" x="25" y="60" width="76" height="4"/>
<rect class="sR" x="505" y="48" width="105" height="4"/><rect class="sY" x="505" y="60" width="105" height="4"/>
<use href="#G" x="25"/><use href="#R" x="25"/><use href="#Y" x="25"/>
<use href="#G" x="145"/><use href="#G" x="185"/><use href="#G" x="205"/><use href="#G" x="245"/><use href="#G" x="265"/><use href="#G" x="305"/><use href="#G" x="325"/><use href="#G" x="365"/><use href="#G" x="385"/><use href="#G" x="425"/><use href="#G" x="445"/><use href="#G" x="485"/>
<use href="#R" x="505"/><use href="#Y" x="505"/>
<use href="#G" x="625"/><use href="#G" x="665"/><use href="#G" x="685"/><use href="#G" x="725"/><use href="#G" x="745"/><use href="#G" x="785"/><use href="#G" x="805"/><use href="#G" x="845"/><use href="#G" x="865"/><use href="#G" x="905"/><use href="#G" x="925"/><use href="#G" x="965"/>
</g>

<g id="row29" transform="translate(0,3702)">
<rect class="ph" x="25" y="33.5" width="240" height="59"/>
<use href="#grid4"/><use href="#tk16"/>
<text class="t" x="25" y="24">♩=181.4</text><text class="t" x="265" y="24">♩=179.1</text><text class="t" x="505" y="24">♩=181.5</text><text class="t" x="745" y="24">♩=180.4</text>
<text class="mn" x="25" y="35">113</text><text class="mn" x="265" y="35">114</text><text class="mn" x="505" y="35">115</text><text class="mn" x="745" y="35">116</text>
<text class="sc" x="265" y="99">238</text><text class="cu" x="265" y="108"><tspan class="gn">129746 </tspan>122846</text><text class="od" x="265" y="118">1.75 OD</text>
<text class="sc" x="505" y="99">200</text><text class="cu" x="505" y="108"><tspan class="gn">130546 </tspan>123646</text>
<text class="sc" x="745" y="99">74</text><text class="cu" x="745" y="108"><tspan class="gn">130842 </tspan>123942</text>
<text class="sc" x="985" y="99">100</text><text class="cu" x="985" y="108"><tspan class="gn">131242 </tspan>124342</text>
<rect class="sX" x="25" y="48" width="106" height="4"/><rect class="sX" x="25" y="60" width="106" height="4"/><rect class="sX" x="25" y="72" width="106" height="4"/>
<rect class="sG" x="505" y="36" width="60" height="4"/><rect class="sR" x="505" y="48" width="60" height="4"/>
<use href="#r" x="25"/><use href="#y" x="25"/><use href="#b" x="25"/>
<use href="#g" x="145"/><use href="#g" x="185"/><use href="#g" x="205"/><use href="#g" x="245"/>
<use href="#G" x="265"/><use href="#G" x="305"/><use href="#G" x="325"/><use href="#G" x="365"/><use href="#G" x="385"/><use href="#G" x="425"/><use href="#G" x="445"/><use href="#G" x="485"/>
<use href="#G" x="505"/><use href="#R" x="505"/>
<use href="#Y" x="895"/><use href="#B" x="895"/><use href="#G" x="925"/><use href="#R" x="935"/>
</g>

<g id="row30" transform="translate(0,3832)">
<use href="#grid4"/><use href="#tk16"/>
<text class="t" x="25" y="24">♩=178.6</text><text class="t" x="265" y="24">♩=179.5</text><text class="t" x="505" y="24">♩=180</text><text class="t" x="745" y="24">♩=182.1</text>
<text class="mn" x="25" y="35">117</text><text class="mn" x="265" y="35">118</text><text class="mn" x="505" y="35">119</text><text class="mn" x="745" y="35">120</text>
<text class="sn" x="85" y="35">chorus_3b</text>
<text class="sc" x="265" y="99">166</text><text class="cu" x="265" y="108"><tspan class="gn">131906 </tspan>125006</text>
<text class="sc" x="505" y="99">200</text><text class="cu" x="505" y="108"><tspan class="gn">132706 </tspan>125806</text>
<text class="sc" x="745" y="99">200</text><text class="cu" x="745" y="108"><tspan class="gn">133506 </tspan>126606</text>
<text class="sc" x="985" y="99">275</text><text class="cu" x="985" y="108"><tspan class="gn">134606 </tspan>127706</text>
<rect class="sG" x="25" y="36" width="166" height="4"/><rect class="sY" x="25" y="60" width="166" height="4"/>
<use href="#G" x="25"/><use href="#Y" x="25"/><use href="#G" x="205"/><use href="#G" x="245"/><use href="#G" x="325"/>
<use href="#Y" x="365"/><use href="#Y" x="475"/><use href="#B" x="385"/><use href="#B" x="445"/><use href="#O" x="365"/><use href="#O" x="385"/><use href="#O" x="445"/>
<use href="#R" x="505"/><use href="#R" x="545"/><use href="#R" x="565"/><use href="#R" x="625"/><use href="#R" x="685"/><use href="#R" x="745"/><use href="#R" x="785"/><use href="#R" x="845"/><use href="#R" x="925"/><use href="#R" x="965"/>
<use href="#B" x="565"/><use href="#B" x="625"/><use href="#B" x="685"/><use href="#B" x="785"/><use href="#B" x="845"/><use href="#B" x="865"/><use href="#B" x="925"/>
<use href="#Y" x="865"/><use href="#Y" x="965"/>
</g>

<g id="row31" transform="translate(0,3962)">
<rect class="ph" x="265" y="33.5" width="240" height="59"/>
<use href="#grid4"/><use href="#tk16"/>
<text class="t" x="25" y="24">♩=180.2</text><text class="t" x="265" y="24">♩=181.9</text><text class="t" x="505" y="24">♩=178</text><text class="t" x="745" y="24">♩=180.9</text>
<text class="mn" x="25" y="35">121</text><text class="mn" x="265" y="35">122</text><text class="mn" x="505" y="35">123</text><text class="mn" x="745" y="35">124</text>
<text class="sc" x="265" y="99">275</text><text class="cu" x="265" y="108"><tspan class="gn">135706 </tspan>128806</text>
<text class="sc" x="505" y="99">250</text><text class="cu" x="505" y="108"><tspan class="gn">136706 </tspan>129806</text>
<text class="sc" x="745" y="99">250</text><text class="cu" x="745" y="108"><tspan class="gn">137706 </tspan>130806</text>
<text class="sc" x="985" y="99">375</text><text class="cu" x="985" y="108"><tspan class="gn">139206 </tspan>132306</text>
<use href="#G" x="25"/><use href="#G" x="85"/><use href="#G" x="145"/><use href="#G" x="205"/><use href="#G" x="245"/><use href="#R" x="55"/>
<use href="#Y" x="85"/><use href="#Y" x="145"/><use href="#Y" x="245"/><use href="#B" x="85"/><use href="#B" x="145"/>
<use href="#g" x="325"/><use href="#g" x="485"/><use href="#r" x="365"/><use href="#r" x="425"/><use href="#r" x="445"/><use href="#y" x="385"/><use href="#b" x="365"/><use href="#b" x="385"/><use href="#b" x="425"/><use href="#b" x="445"/>
<use href="#B" x="505"/><use href="#B" x="565"/><use href="#B" x="625"/><use href="#B" x="685"/><use href="#B" x="725"/><use href="#B" x="745"/><use href="#B" x="785"/><use href="#B" x="865"/><use href="#B" x="905"/>
<use href="#G" x="505"/><use href="#G" x="565"/><use href="#G" x="625"/><use href="#G" x="685"/><use href="#G" x="725"/><use href="#G" x="925"/><use href="#G" x="965"/>
<use href="#R" x="745"/><use href="#R" x="785"/><use href="#R" x="865"/><use href="#R" x="905"/>
<use href="#Y" x="805"/><use href="#Y" x="845"/><use href="#Y" x="925"/><use href="#O" x="805"/><use href="#O" x="845"/>
</g>

<g id="row32" transform="translate(0,4092)">
<rect class="ph" x="505" y="33.5" width="240" height="59"/>
<use href="#grid4"/><use href="#tk16"/>
<text class="t" x="25" y="24">♩=179.4</text><text class="t" x="265" y="24">♩=180.8</text><text class="t" x="505" y="24">♩=179.9</text><text class="t" x="745" y="24">♩=179.8</text>
<text class="mn" x="25" y="35">125</text><text class="mn" x="265" y="35">126</text><text class="mn" x="505" y="35">127</text><text class="mn" x="745" y="35">128</text>
<text class="sn" x="85" y="35">chorus_3c</text>
<text class="sc" x="265" y="99">325</text><text class="cu" x="265" y="108"><tspan class="gn">140506 </tspan>133606</text>
<text class="sc" x="505" y="99">345</text><text class="cu" x="505" y="108"><tspan class="gn">141886 </tspan>134986</text>
<text class="sc" x="745" y="99">289</text><text class="cu" x="745" y="108"><tspan class="gn">143042 </tspan>136142</text><text class="od" x="745" y="118">1.083 OD</text>
<text class="sc" x="985" y="99">450</text><text class="cu" x="985" y="108"><tspan class="gn">144842 </tspan>137942</text>
<rect class="sY" x="355" y="60" width="75" height="4"/><rect class="sB" x="355" y="72" width="75" height="4"/><rect class="sO" x="355" y="84" width="75" height="4"/>
<rect class="sX" x="605" y="36" width="65" height="4"/><rect class="sX" x="605" y="60" width="65" height="4"/><rect class="sX" x="605" y="72" width="65" height="4"/>
<use href="#G" x="25"/><use href="#G" x="65"/><use href="#G" x="85"/><use href="#G" x="205"/><use href="#G" x="485"/>
<use href="#Y" x="25"/><use href="#Y" x="85"/><use href="#Y" x="145"/><use href="#Y" x="205"/>
<use href="#R" x="85"/><use href="#R" x="205"/><use href="#R" x="235"/><use href="#R" x="265"/><use href="#R" x="325"/>
<use href="#B" x="145"/><use href="#B" x="265"/><use href="#B" x="325"/><use href="#B" x="445"/><use href="#O" x="265"/><use href="#O" x="325"/><use href="#O" x="445"/>
<use href="#Y" x="355"/><use href="#B" x="355"/><use href="#O" x="355"/>
<use href="#g" x="505"/><use href="#g" x="565"/><use href="#g" x="605"/><use href="#g" x="685"/><use href="#y" x="505"/><use href="#y" x="605"/><use href="#b" x="605"/><use href="#y" x="685"/><use href="#b" x="685"/><use href="#r" x="725"/>
<use href="#R" x="745"/><use href="#R" x="805"/><use href="#R" x="845"/><use href="#R" x="905"/><use href="#R" x="925"/>
<use href="#B" x="805"/><use href="#B" x="845"/><use href="#B" x="865"/><use href="#B" x="905"/><use href="#B" x="925"/>
<use href="#O" x="745"/><use href="#O" x="805"/><use href="#O" x="845"/><use href="#O" x="865"/><use href="#O" x="905"/><use href="#O" x="925"/><use href="#G" x="965"/>
</g>

<g id="row33" transform="translate(0,4222)">
<use href="#grid4"/><use href="#tk16"/>
<text class="t" x="25" y="24">♩=177.3</text><text class="t" x="265" y="24">♩=181.5</text><text class="t" x="505" y="24">♩=178.8</text><text class="t" x="745" y="24">♩=181.4</text>
<text class="mn" x="25" y="35">129</text><text class="mn" x="265" y="35">130</text><text class="mn" x="505" y="35">131</text><text class="mn" x="745" y="35">132</text>
<text class="sn" x="565" y="35">outro</text>
<text class="sc" x="265" y="99">325</text><text class="cu" x="265" y="108"><tspan class="gn">146142 </tspan>139242</text>
<text class="sc" x="505" y="99">75</text><text class="cu" x="505" y="108"><tspan class="gn">146442 </tspan>139542</text>
<text class="sc" x="745" y="99">275</text><text class="cu" x="745" y="108"><tspan class="gn">147542 </tspan>140642</text>
<text class="sc" x="985" y="99">276</text><text class="cu" x="985" y="108"><tspan class="gn">148646 </tspan>141746</text>
<rect class="sG" x="845" y="36" width="65" height="4"/><rect class="sY" x="845" y="60" width="65" height="4"/>
<use href="#G" x="85"/><use href="#G" x="125"/><use href="#G" x="145"/><use href="#G" x="185"/><use href="#G" x="205"/><use href="#G" x="265"/>
<use href="#R" x="25"/><use href="#R" x="85"/><use href="#R" x="125"/><use href="#R" x="145"/><use href="#R" x="185"/><use href="#R" x="205"/><use href="#R" x="265"/><use href="#R" x="505"/><use href="#R" x="565"/><use href="#R" x="585"/><use href="#R" x="625"/><use href="#R" x="665"/><use href="#R" x="685"/><use href="#R" x="725"/><use href="#R" x="745"/><use href="#R" x="785"/>
<use href="#Y" x="145"/><use href="#Y" x="185"/><use href="#Y" x="265"/>
<use href="#B" x="565"/><use href="#B" x="625"/><use href="#B" x="665"/><use href="#B" x="745"/><use href="#B" x="785"/><use href="#O" x="585"/>
<use href="#G" x="805"/><use href="#G" x="845"/><use href="#Y" x="845"/><use href="#G" x="925"/><use href="#G" x="965"/><use href="#Y" x="925"/>
</g>

<g id="row34" transform="translate(0,4352)">
<use href="#grid4"/><use href="#tk16"/>
<text class="t" x="25" y="24">♩=175.8</text><text class="t" x="265" y="24">♩=184.5</text><text class="t" x="505" y="24">♩=173.8</text><text class="t" x="745" y="24">♩=185.8</text>
<text class="mn" x="25" y="35">133</text><text class="mn" x="265" y="35">134</text><text class="mn" x="505" y="35">135</text><text class="mn" x="745" y="35">136</text>
<text class="sc" x="265" y="99">325</text><text class="cu" x="265" y="108"><tspan class="gn">149946 </tspan>143046</text>
<text class="sc" x="505" y="99">316</text><text class="cu" x="505" y="108"><tspan class="gn">151210 </tspan>144310</text>
<text class="sc" x="745" y="99">350</text><text class="cu" x="745" y="108"><tspan class="gn">152610 </tspan>145710</text>
<text class="sc" x="985" y="99">230</text><text class="cu" x="985" y="108"><tspan class="gn">153530 </tspan>146630</text>
<rect class="sG" x="355" y="36" width="40" height="4"/><rect class="sY" x="355" y="60" width="40" height="4"/>
<rect class="sG" x="835" y="36" width="75" height="4"/><rect class="sY" x="835" y="60" width="75" height="4"/>
<use href="#R" x="25"/><use href="#R" x="65"/><use href="#R" x="85"/><use href="#R" x="125"/><use href="#R" x="145"/><use href="#R" x="175"/><use href="#R" x="235"/><use href="#R" x="265"/><use href="#R" x="285"/>
<use href="#Y" x="195"/><use href="#B" x="85"/><use href="#B" x="125"/><use href="#B" x="175"/><use href="#B" x="205"/><use href="#B" x="265"/><use href="#O" x="145"/><use href="#O" x="285"/>
<use href="#G" x="325"/><use href="#G" x="355"/><use href="#Y" x="355"/><use href="#G" x="425"/><use href="#G" x="445"/><use href="#G" x="485"/><use href="#Y" x="425"/><use href="#O" x="445"/>
<use href="#R" x="505"/><use href="#R" x="545"/><use href="#R" x="565"/><use href="#R" x="605"/><use href="#R" x="625"/><use href="#R" x="715"/><use href="#R" x="745"/><use href="#R" x="775"/><use href="#R" x="965"/>
<use href="#B" x="545"/><use href="#B" x="565"/><use href="#B" x="625"/><use href="#B" x="685"/><use href="#B" x="715"/><use href="#O" x="605"/><use href="#O" x="655"/><use href="#Y" x="715"/>
<use href="#G" x="805"/><use href="#G" x="835"/><use href="#Y" x="835"/><use href="#G" x="925"/><use href="#Y" x="925"/>
</g>

<g id="row35" transform="translate(0,4482)">
<use href="#grid2"/><use href="#tk8"/>
<text class="t" x="25" y="24">♩=176.8</text><text class="t" x="145" y="24">♩=182.6</text>
<text class="mn" x="25" y="35">137</text><text class="mn" x="265" y="35">138</text>
<text class="sc" x="265" y="99">350</text><text class="cu" x="265" y="108"><tspan class="gn">154930 </tspan>148030</text>
<text class="sc" x="505" y="99">0</text><text class="cu" x="505" y="108"><tspan class="gn">154930 </tspan>148030</text>
<use href="#R" x="25"/><use href="#R" x="65"/><use href="#R" x="85"/><use href="#R" x="125"/><use href="#R" x="145"/><use href="#R" x="175"/><use href="#R" x="205"/><use href="#R" x="235"/>
<use href="#B" x="25"/><use href="#B" x="85"/><use href="#B" x="145"/><use href="#B" x="175"/><use href="#B" x="205"/><use href="#B" x="235"/>
</g>

<g id="footer">
<text x="0" y="4648" font-size="10.5" fill="#888" textLength="201" lengthAdjust="spacingAndGlyphs">http://charts.ajanata.com/rb/</text>
<text x="0" y="4663" font-size="10.5" fill="#f00" textLength="607" lengthAdjust="spacingAndGlyphs">WARNING: Work in progress. This information has NOT BEEN VERIFIED and MAY BE INCORRECT.</text>
<text x="689" y="4648" font-size="10.5" fill="#888" textLength="313" lengthAdjust="spacingAndGlyphs">Generated at Fri, 26 Aug 2011 06:18:32 -0400.</text>
<text x="689" y="4663" font-size="10.5" fill="#888" textLength="312" lengthAdjust="spacingAndGlyphs">Generated by ajanata's Chart Generator, r299.</text>
</g>
</g>
</svg>
